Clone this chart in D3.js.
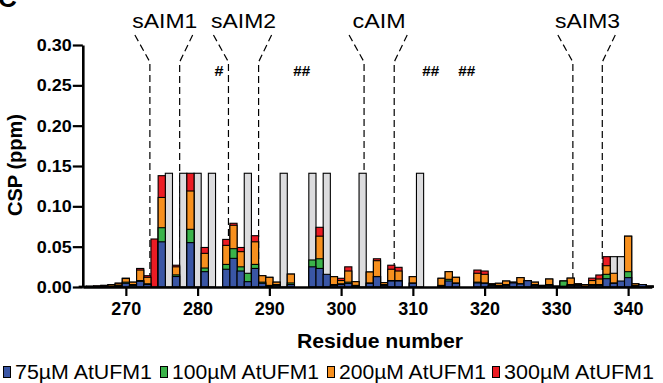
<!DOCTYPE html>
<html>
<head>
<meta charset="utf-8">
<script src="https://cdn.jsdelivr.net/npm/d3@7.8.5/dist/d3.min.js"></script>
<style>
  body { margin: 0; background: #fff; }
  svg { display: block; font-family: "Liberation Sans", Arial, Helvetica, sans-serif; }
</style>
</head>
<body>
<svg id="chart" width="663" height="383"></svg>
<script>
// residue numbers 264..343
const residues = d3.range(264, 344);

// CSP (ppm) for each titration point, one value per residue (null = not assigned)
const csp75 = [0,0,0,0.001,0.001,0.001, 0.0046,0.002,0.007,0.003,0,0.056,null,0.013,null,0.055,
  null,0.019,null,null,0.022,0.0355,0.0198,0.0066,0.023,0.0046, 0.001,0.002,null,0.003,null,null,0.025,0.023,0.0157,0.002,
  0.003,0.0045,0.001,null,0.0045,0.0128,0.002,0.0074,0.0074,0, 0.0045,null,null,null,0.001,0.0074,0.0045,null,null,0.005,
  0.0045,0.002,0.001,0.002,0.005,0.0037,0.0078,0.002,0.001,0.002, 0,0.001,0.002,0.002,0.001,0.002,0.002,0.0103,0.0045,0.0074,
  0.0116,0.001,0.003,0.001];
const csp100 = [0,0,0,0.001,0.001,0.002, 0.006,0.003,0.008,0.004,0,0.0735,null,0.015,null,0.0715,
  null,0.0235,null,null,0.028,0.0475,0.025,0.017,0.028,0.006, 0.002,0.003,null,0.005,null,null,0.0335,0.035,null,0.003,
  0.004,0.006,0.002,null,0.005,0.013,0.003,0.008,0.008,0, 0.005,null,null,null,0.002,0.0095,0.005,null,null,0.006,
  0.005,0.003,0.002,0.003,0.005,0.004,0.0078,0.003,0.001,0.003, 0.001,0.0074,0.003,0.003,0.001,0.003,0.003,0.0157,0.005,null,
  0.019,0.002,0.003,0.001];
const csp200 = [0,0.001,0.001,0.002,0.003,0.004, 0.0105,0.006,0.021,0.012,0,0.111,null,0.025,null,0.119,
  null,0.0417,null,null,0.0516,0.0765,0.0438,null,0.056,0.014, 0.012,0.006,null,0.016,null,null,null,0.063,null,0.0128,
  0.008,0.0198,0.0066,null,0.0186,0.0326,0.0054,0.022,0.0198,0, 0.0128,null,null,null,0.0108,0.019,0.012,null,null,0.017,
  0.0157,0.004,0.0046,0.0074,0.006,0.0116,0.0078,0.006,0.002,0.0099, 0.001,0.0074,0.011,0.004,0.003,0.008,0.0099,0.0264,0.017,null,
  0.063,0.004,0.003,0.001];
const csp300 = [0.001,0.001,0.0015,0.002,0.003,0.005, 0.011,0.006,0.023,0.014,0.0595,0.138,null,0.027,null,0.141,
  null,0.049,null,null,0.059,0.079,0.049,null,0.0636,0.014, 0.012,0.006,null,0.016,null,null,null,0.074,null,0.0128,
  0.0108,0.025,0.0066,null,0.0186,0.035,0.0054,0.027,0.0244,0, 0.0128,null,null,null,0.0108,0.019,0.012,null,null,0.021,
  0.0198,0.004,0.0046,0.0074,0.006,0.0116,0.0078,0.006,0.002,0.0099, 0.001,0.0074,0.011,0.004,0.003,0.011,0.0149,0.0376,null,null,
  0.063,0.004,0.003,0.001];

// residues whose peaks broadened out (grey bars) and their bar height
const greyResidues = [276, 278, 280, 282, 287, 292, 296, 298, 303, 311, 338, 339];
const greyHeights  = [0.141, 0.141, 0.141, 0.141, 0.141, 0.141, 0.141, 0.141, 0.141, 0.141, 0.0376, 0.0376];

// motif regions (dashed boundaries, in residue units)
const motifNames  = ["sAIM1", "sAIM2", "cAIM", "sAIM3"];
const motifStarts = [273.35, 284.3, 303.2, 332.3];
const motifEnds   = [277.5, 288.5, 307.4, 336.4];

// unassigned residue marks
const hashLabels = ["#", "##", "##", "##"];
const hashAt     = [283, 294.5, 312.5, 317.5];

const yTicks = [0, 0.05, 0.10, 0.15, 0.20, 0.25, 0.30];
const xTicks = [270, 280, 290, 300, 310, 320, 330, 340];

const seriesNames  = ["75µM AtUFM1", "100µM AtUFM1", "200µM AtUFM1", "300µM AtUFM1"];
const seriesColors = ["#3a56a5", "#3bb34a", "#f7901e", "#ec1c24"];
const seriesValues = [csp75, csp100, csp200, csp300];

const svg = d3.select("#chart");

const x = d3.scaleLinear().domain([264, 343.3]).range([82.8, 651.8]);
const y = d3.scaleLinear().domain([0, 0.30]).range([287, 45]);
const barW = x(265) - x(264);

// panel letter, mostly cut off at the top
svg.append("text")
    .attr("x", -2).attr("y", 7)
    .attr("font-size", "26px").attr("font-weight", "bold")
    .text("C");

// motif boundaries
const gMotif = svg.append("g")
    .attr("fill", "none").attr("stroke", "#000")
    .attr("stroke-width", 1.2).attr("stroke-dasharray", "7,4");

motifNames.forEach((name, i) => {
    const xs = x(motifStarts[i]), xe = x(motifEnds[i]);
    gMotif.append("path").attr("d", `M${xs - 15},35 L${xs},62 L${xs},${y(0)}`);
    gMotif.append("path").attr("d", `M${xe + 13},35 L${xe},62 L${xe},${y(0)}`);
    svg.append("text")
        .attr("x", (xs + xe) / 2).attr("y", 28)
        .attr("text-anchor", "middle")
        .attr("font-size", "20.5px")
        .attr("textLength", name.length === 4 ? 53 : 65)
        .attr("lengthAdjust", "spacingAndGlyphs")
        .text(name);
});

hashLabels.forEach((h, i) => {
    svg.append("text")
        .attr("x", x(hashAt[i])).attr("y", 76)
        .attr("text-anchor", "middle")
        .attr("font-size", "14.5px").attr("font-weight", "bold")
        .attr("textLength", h.length > 1 ? 17 : 9)
        .attr("lengthAdjust", "spacingAndGlyphs")
        .text(h);
});

// bars: grey first, then largest concentration behind smallest
const gBars = svg.append("g").attr("stroke", "#000").attr("stroke-width", 1.1);

greyResidues.forEach((r, i) => {
    gBars.append("rect")
        .attr("x", x(r) - barW / 2).attr("width", barW)
        .attr("y", y(greyHeights[i])).attr("height", y(0) - y(greyHeights[i]))
        .attr("fill", "#dcdcde");
});

for (let s = 3; s >= 0; s--) {
    const vals = seriesValues[s];
    gBars.selectAll(null)
        .data(residues.map((r, i) => ({ r: r, v: vals[i] })).filter(d => d.v != null && d.v > 0))
        .enter()
        .append("rect")
        .attr("x", d => x(d.r) - barW / 2)
        .attr("width", barW)
        .attr("y", d => y(d.v))
        .attr("height", d => y(0) - y(d.v))
        .attr("fill", seriesColors[s]);
}

// axes
const yAxis = svg.append("g")
    .attr("transform", `translate(${x(264)},0)`)
    .call(d3.axisLeft(y).tickValues(yTicks).tickFormat(d3.format(".2f")).tickSize(10).tickSizeOuter(0));
yAxis.select(".domain").attr("stroke-width", 2.6);
yAxis.selectAll(".tick line").attr("stroke-width", 2.2);
yAxis.selectAll(".tick text")
    .attr("font-size", "17px").attr("font-weight", "bold")
    .attr("font-family", "Liberation Sans, Arial, sans-serif")
    .attr("textLength", 35).attr("lengthAdjust", "spacingAndGlyphs")
    .attr("fill", "#000").attr("x", -11);

const xAxis = svg.append("g")
    .attr("transform", `translate(0,${y(0)})`)
    .call(d3.axisBottom(x).tickValues(xTicks).tickFormat(d3.format("d")).tickSize(9).tickSizeOuter(0));
xAxis.select(".domain").attr("stroke-width", 2.6);
xAxis.selectAll(".tick line").attr("stroke-width", 2.2);
xAxis.selectAll(".tick text")
    .attr("font-size", "18px").attr("font-weight", "bold")
    .attr("font-family", "Liberation Sans, Arial, sans-serif")
    .attr("textLength", 30).attr("lengthAdjust", "spacingAndGlyphs")
    .attr("fill", "#000").attr("y", 15);

// axis titles
svg.append("text")
    .attr("transform", "translate(22,165) rotate(-90)")
    .attr("text-anchor", "middle")
    .attr("font-size", "20px").attr("font-weight", "bold")
    .text("CSP (ppm)");

svg.append("text")
    .attr("x", 380).attr("y", 348)
    .attr("text-anchor", "middle")
    .attr("font-size", "20px").attr("font-weight", "bold")
    .attr("textLength", 166).attr("lengthAdjust", "spacingAndGlyphs")
    .text("Residue number");

// legend
const legendX = [3, 160, 327, 492];
const legendW = [137, 147, 147, 150];
seriesNames.forEach((name, i) => {
    const g = svg.append("g").attr("transform", `translate(${legendX[i]},0)`);
    g.append("rect")
        .attr("x", 0.5).attr("y", 366.5).attr("width", 7).attr("height", 11)
        .attr("fill", seriesColors[i]).attr("stroke", "#000").attr("stroke-width", 1);
    g.append("text")
        .attr("x", 12).attr("y", 379)
        .attr("font-size", "20px")
        .attr("textLength", legendW[i]).attr("lengthAdjust", "spacingAndGlyphs")
        .text(name);
});
</script>
</body>
</html>
